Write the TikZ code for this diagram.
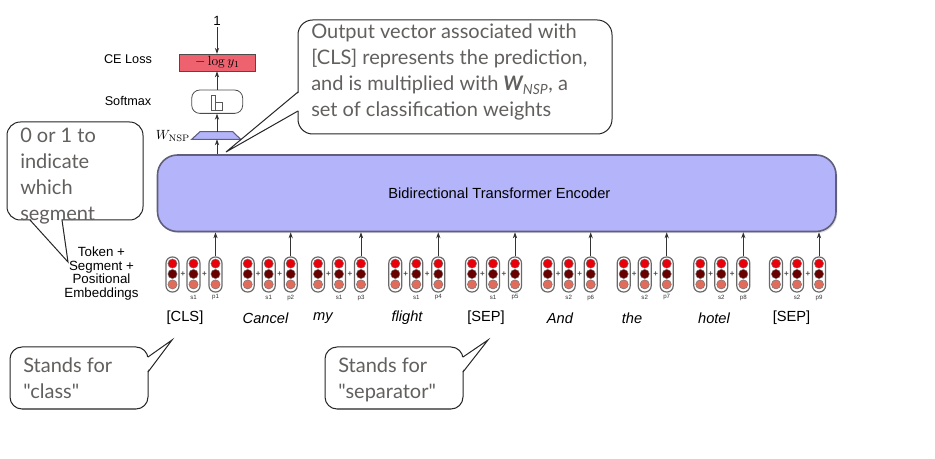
\documentclass[tikz,border=0pt]{standalone}
\usepackage[no-math]{fontspec}
\setmainfont{Liberation Sans}
\newfontfamily\callfont{Lato}
\usetikzlibrary{arrows.meta,shadows}
\definecolor{encfill}{RGB}{180,180,250}
\definecolor{encdraw}{RGB}{95,95,125}
\definecolor{lossfill}{RGB}{238,98,112}
\definecolor{calltext}{RGB}{98,96,94}
\definecolor{topred}{RGB}{232,0,10}
\definecolor{midred}{RGB}{105,0,0}
\definecolor{lowred}{RGB}{226,108,92}
\definecolor{capdraw}{RGB}{105,105,105}
\begin{document}
\begin{tikzpicture}[x=0.75pt,y=-0.75pt,
  arr/.style={-{Stealth[length=4.5pt,width=3.2pt]}, draw=black!80, line width=0.6pt},
  callbox/.style={draw=black!85, line width=0.75pt, fill=white, outer sep=0, inner sep=0},
  calltxt/.style={font=\callfont\fontsize{15}{19.5}\selectfont, text=calltext, align=left, inner sep=0, anchor=north west},
  lbl/.style={font=\fontsize{9.5}{10}\selectfont, align=center, inner sep=0},
  word/.style={font=\fontsize{11}{13}\selectfont, inner sep=0},
  capsule/.style={draw=capdraw, line width=0.9pt, fill=white, rounded corners=4.6pt, minimum width=9.75pt, minimum height=26.25pt, inner sep=0},
  dot/.style={circle, draw=black!55, line width=0.35pt, minimum size=6.9pt, inner sep=0},
  tiny/.style={font=\fontsize{4.6}{5}\selectfont, inner sep=0, text=black!80},
  plus/.style={font=\bfseries\fontsize{6}{6}\selectfont, inner sep=0, text=black!70}
]
\useasboundingbox (0,0) rectangle (935,459);

% encoder
\node[draw=encdraw, fill=encfill, line width=1.2pt, rounded corners=15pt,
  minimum width=508.9pt, minimum height=57.4pt, inner sep=0,
  drop shadow={opacity=0.25,shadow xshift=1pt,shadow yshift=-1.2pt},
  font=\fontsize{11}{13}\selectfont] (enc) at (496.75,193.25) {\hspace*{4pt}Bidirectional Transformer Encoder};

% embedding groups
\foreach \px/\s/\p/\i in {215.5/s1/p1/1, 290.7/s1/p2/2, 361/s1/p3/3, 438.3/s1/p4/4, 515/s1/p5/5, 590.7/s2/p6/6, 666.7/s2/p7/7, 743.3/s2/p8/8, 819/s2/p9/9}{
  \foreach \off/\n in {43/a, 22/b, 0/c}{
    \node[capsule] (\n\i) at (\px-\off, 274.5) {};
    \node[dot, fill=topred] (\n\i t) at (\px-\off, 263.6) {};
    \node[dot, fill=midred] (\n\i m) at (\px-\off, 274.0) {};
    \node[dot, fill=lowred] (\n\i l) at (\px-\off, 284.4) {};
  }
  \node[plus] (pa\i) at (\px-32.5, 274) {+};
  \node[plus] (pb\i) at (\px-11, 274) {+};
  \node[tiny] (s\i) at (\px-22, 297.5) {\s};
  \node[tiny] (p\i) at (\px, 297.5) {\p};
  \draw[arr] (c\i.north) -- (c\i.north |- enc.south);
}

% words
\node[word] (w1) at (185,318) {[CLS]};
\node[word] (w2) at (265.5,318) {\itshape Cancel};
\node[word] (w3) at (323,318) {\itshape my};
\node[word] (w4) at (407,318) {\itshape flight};
\node[word] (w5) at (486,318) {[SEP]};
\node[word] (w6) at (560,318) {\itshape And};
\node[word] (w7) at (632,318) {\itshape the};
\node[word] (w8) at (714,318) {\itshape hotel};
\node[word] (w9) at (791.5,318) {[SEP]};

% left labels
\node[lbl] (ce) at (128,59) {CE Loss};
\node[lbl] (smx) at (128,101) {Softmax};
\node[lbl, font=\fontsize{10}{10.3}\selectfont] (emb) at (101.5,273.5) {Token +\\Segment +\\Positional\\Embeddings};

% top stack
\node[font=\fontsize{10}{12}\selectfont, inner sep=1pt] (one) at (217,21) {1};
\node[draw=black!70, fill=lossfill, line width=0.6pt, minimum width=57.3pt, minimum height=12.5pt, inner sep=0,
  font=\fontsize{10}{12}\selectfont] (loss) at (217.5,62.6) {$-\log y_1$};
\node[draw=black!70, fill=white, line width=0.6pt, rounded corners=6pt, minimum width=38.2pt, minimum height=17.5pt, inner sep=0] (soft) at (217.2,101.7) {};
\draw[black!65, line width=0.5pt] (211,110) rectangle (215.5,95) (215.5,110) rectangle (222,102);
\draw[draw=encdraw, fill=encfill, line width=0.8pt] (191.7,139.3) -- (200,131.7) -- (232.7,131.7) -- (240.7,139.3) -- cycle;
\coordinate (wtop) at (217,131.7);
\coordinate (wbot) at (217,139.3);
\node[font=\fontsize{10}{12}\selectfont, inner sep=0] (wl) at (173,136) {$W_{\mathrm{NSP}}$};

\draw[arr] (one.south) -- (loss.north -| one.south);
\draw[arr] (soft.north -| wtop) -- (loss.south -| wtop);
\draw[arr] (wtop) -- (soft.south -| wtop);
\draw[arr] (enc.north -| wbot) -- (wbot);

% callout 1 (top)
\node[callbox, rounded corners=11pt, minimum width=235.5pt, minimum height=85.5pt] (cb1) at (455,77) {};
\coordinate (tip1) at (226,152);
\fill[white] (299,92.6) -- (tip1) -- (299,110.4) -- cycle;
\draw[black!85, line width=0.75pt, line join=miter] (298,92) -- (tip1) -- (298,111);
\node[calltxt] (ct1) at (311,24) {Output vector associated with\\{[CLS]} represents the prediction,\\and is multiplied with {\bfseries\itshape W}\textsubscript{\itshape NSP}, a\\set of classification weights};

% callout 2 (left)
\node[callbox, rounded corners=10pt, minimum width=102pt, minimum height=73.5pt] (cb2) at (75,171) {};
\coordinate (tip2) at (68,262);
\fill[white] (30.6,219) -- (tip2) -- (61.4,219) -- cycle;
\draw[black!85, line width=0.75pt] (30,220) -- (tip2) -- (62,220);
\node[calltxt] (ct2) at (20,128) {0 or 1 to\\indicate\\which\\segment};

% callout 3 (bottom left)
\node[callbox, rounded corners=9pt, minimum width=103.5pt, minimum height=46.5pt] (cb3) at (79,378) {};
\coordinate (tip3) at (172,340);
\fill[white] (147,357.6) -- (tip3) -- (147,371.4) -- cycle;
\draw[black!85, line width=0.75pt] (148,357) -- (tip3) -- (148,372);
\node[calltxt] (ct3) at (23,358) {Stands for\\"class"};

% callout 4 (bottom middle)
\node[callbox, rounded corners=9pt, minimum width=103.5pt, minimum height=46.5pt] (cb4) at (394,378) {};
\coordinate (tip4) at (488,340);
\fill[white] (462,357.6) -- (tip4) -- (462,371.4) -- cycle;
\draw[black!85, line width=0.75pt] (463,357) -- (tip4) -- (463,372);
\node[calltxt] (ct4) at (338,358) {Stands for\\"separator"};
\end{tikzpicture}
\end{document}
